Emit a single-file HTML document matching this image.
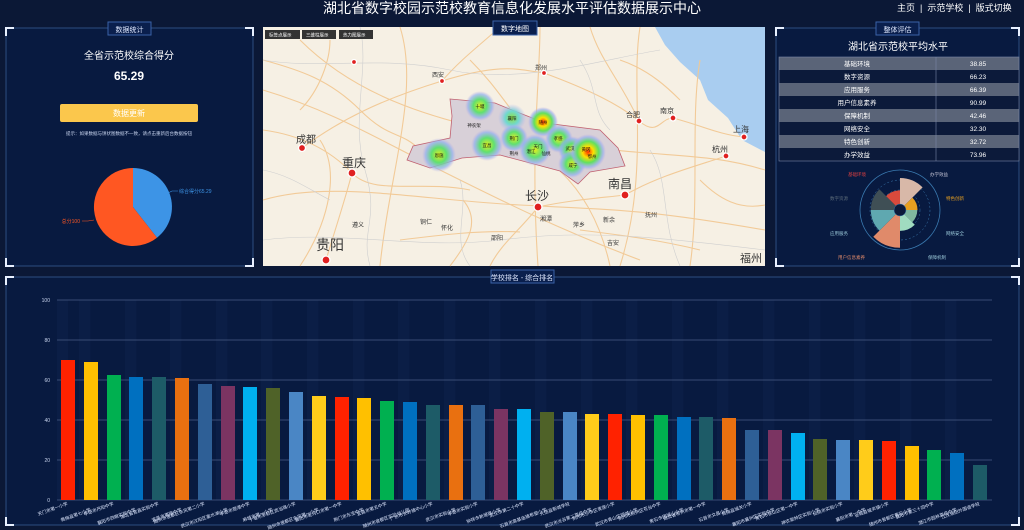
<!DOCTYPE html>
<html><head><meta charset="utf-8"><style>
html,body{margin:0;padding:0;background:#0b1836;width:1024px;height:530px;overflow:hidden;font-family:"Liberation Sans","Noto Sans CJK SC",sans-serif}
svg text{font-family:"Liberation Sans","Noto Sans CJK SC",sans-serif}
</style></head><body>
<svg width="1024" height="530" viewBox="0 0 1024 530" xmlns="http://www.w3.org/2000/svg">
<defs>
<radialGradient id="h1"><stop offset="0" stop-color="#ff3000"/><stop offset="0.3" stop-color="#ffe000"/><stop offset="0.6" stop-color="#60e060"/><stop offset="0.85" stop-color="#9ab0f0" stop-opacity="0.7"/><stop offset="1" stop-color="#c0b0e0" stop-opacity="0"/></radialGradient>
<radialGradient id="h2"><stop offset="0" stop-color="#e0f020"/><stop offset="0.45" stop-color="#60e070"/><stop offset="0.8" stop-color="#90b0f0" stop-opacity="0.7"/><stop offset="1" stop-color="#c0b0e0" stop-opacity="0"/></radialGradient>
<radialGradient id="h3"><stop offset="0" stop-color="#90e040"/><stop offset="0.5" stop-color="#70d8d0"/><stop offset="1" stop-color="#b0b0f0" stop-opacity="0"/></radialGradient>
</defs>
<text x="512" y="13" fill="#fff" font-size="14" text-anchor="middle">湖北省数字校园示范校教育信息化发展水平评估数据展示中心</text>
<text x="897" y="11" fill="#fff" font-size="9">主页 &#160;|&#160; 示范学校 &#160;|&#160; 版式切换</text>

<g fill="#081a40" stroke="#2c4d80" stroke-width="1">
<rect x="6" y="28" width="247" height="238"/>
<rect x="776" y="28" width="243" height="238"/>
<rect x="6" y="277" width="1013" height="248"/>
</g>
<g fill="none" stroke="#e8f0ff" stroke-width="2">
<path d="M6,36 V28 H14"/><path d="M245,28 H253 V36"/><path d="M6,258 V266 H14"/><path d="M245,266 H253 V258"/>
<path d="M776,36 V28 H784"/><path d="M1011,28 H1019 V36"/><path d="M776,258 V266 H784"/><path d="M1011,266 H1019 V258"/>
<path d="M6,285 V277 H14"/><path d="M1011,277 H1019 V285"/><path d="M6,517 V525 H14"/><path d="M1011,525 H1019 V517"/>
</g>

<rect x="108" y="22" width="43" height="13" fill="#0a1f4d" stroke="#3a62a8"/>
<text x="129.5" y="32" fill="#dfe8ff" font-size="7" text-anchor="middle">数据统计</text>
<text x="129" y="59" fill="#fff" font-size="10" text-anchor="middle">全省示范校综合得分</text>
<text x="129" y="80" fill="#fff" font-size="12" font-weight="bold" text-anchor="middle">65.29</text>
<rect x="60" y="104" width="138" height="18" rx="2" fill="#fbc74c"/>
<text x="129" y="116" fill="#fff" font-size="8" text-anchor="middle">数据更新</text>
<text x="129" y="135" fill="#c8d4ee" font-size="4.5" text-anchor="middle">提示：如果数据与饼状图数据不一致，请点击重新后台数据按钮</text>
<path d="M133,207 L133,168 A39,39 0 0 1 157,237.7 Z" fill="#3d94e6"/>
<path d="M133,207 L157,237.7 A39,39 0 1 1 133,168 Z" fill="#ff5722"/>
<path d="M168,193 L172,191 H178" stroke="#3d94e6" fill="none" stroke-width="0.6"/>
<text x="179" y="193" fill="#3d94e6" font-size="5">综合得分65.29</text>
<path d="M94,220 L88,221 H82" stroke="#ff5722" fill="none" stroke-width="0.6"/>
<text x="80" y="223" fill="#ff5722" font-size="5" text-anchor="end">总分100</text>

<!-- map -->
<rect x="263" y="27" width="502" height="239" fill="#f6f0e4"/>
<polygon points="655,27 765,27 765,152 742,140 728,118 708,100 700,80 680,62 665,45" fill="#a9cdf0"/>
<g fill="none" stroke="#f2c994" stroke-width="1.1" opacity="0.95">
<path d="M263,90 C330,110 380,140 440,170 S560,230 640,260"/>
<path d="M300,40 C350,90 420,120 540,140 S700,150 765,170"/>
<path d="M263,200 C330,180 420,200 520,205 S650,210 765,230"/>
<path d="M540,27 C540,80 530,150 538,266"/>
<path d="M400,27 C420,90 390,170 380,266"/>
<path d="M640,27 C630,90 650,170 620,266"/>
<path d="M700,60 C690,120 700,200 690,266"/>
<path d="M320,140 C340,170 330,220 300,266"/>
<path d="M263,130 C300,135 330,150 352,173 S420,180 470,190"/>
<path d="M302,148 C340,120 380,100 442,81 S520,70 544,73"/>
<path d="M544,73 C590,90 620,105 639,121 S660,118 673,118"/>
<path d="M673,118 C700,125 720,135 744,137"/>
<path d="M625,195 C660,175 700,165 726,156"/>
<path d="M538,207 C570,200 600,198 625,195"/>
<path d="M538,207 C520,230 500,245 490,266"/>
<path d="M352,173 C345,200 335,230 326,260"/>
<path d="M442,81 C460,60 480,45 500,27"/>
<path d="M590,27 C600,60 620,80 639,121"/>
<path d="M263,60 C300,70 330,80 360,110 S400,130 420,150"/>
<path d="M560,171 C580,190 600,220 610,266"/>
<path d="M463,200 C480,220 470,240 450,266"/>
<path d="M700,180 C720,200 740,210 765,205"/>
<path d="M620,60 C650,70 670,90 680,100"/>
<path d="M330,40 C330,60 320,90 300,110"/>
<path d="M580,230 C620,235 660,240 700,250"/>
<path d="M400,240 C440,235 480,230 520,232"/>
<path d="M470,60 C490,80 500,95 510,108"/>
</g>
<g fill="none" stroke="#cfcfcf" stroke-width="0.6">
<path d="M263,60 C320,70 380,55 450,70 S600,60 660,50"/>
<path d="M263,240 C340,230 420,250 500,240 S640,235 765,250"/>
<path d="M460,180 C470,210 450,240 470,266"/>
<path d="M360,27 C370,70 350,120 365,170 S360,230 370,266"/>
<path d="M580,60 C600,90 590,110 610,130"/>
<path d="M650,150 C670,180 660,220 680,266"/>
<path d="M263,170 C290,175 310,190 330,200"/>
</g>
<polygon points="450,99 495,103 512,110 545,123 600,130 618,148 625,166 590,172 578,184 560,171 500,155 462,158 430,168 407,160 413,146 450,138 452,116" fill="#d8d0d8" stroke="#c06070" stroke-width="0.8"/>
<circle cx="480" cy="106" r="15" fill="url(#h2)"/>
<circle cx="512" cy="118" r="14" fill="url(#h3)"/>
<circle cx="543" cy="122" r="15" fill="url(#h1)"/>
<circle cx="514" cy="138" r="14" fill="url(#h2)"/>
<circle cx="487" cy="145" r="16" fill="url(#h2)"/>
<circle cx="439" cy="155" r="17" fill="url(#h2)"/>
<circle cx="559" cy="139" r="14" fill="url(#h2)"/>
<circle cx="535" cy="150" r="16" fill="url(#h2)"/>
<circle cx="572" cy="150" r="14" fill="url(#h2)"/>
<circle cx="572" cy="164" r="14" fill="url(#h2)"/>
<circle cx="588" cy="152" r="18" fill="url(#h1)"/>
<g font-size="4.5" fill="#111" text-anchor="middle">
<text x="480" y="108">十堰</text><text x="512" y="120">襄阳</text><text x="543" y="124">随州</text><text x="474" y="127">神农架</text>
<text x="514" y="140">荆门</text><text x="487" y="147">宜昌</text><text x="439" y="157">恩施</text><text x="538" y="148">天门</text>
<text x="558" y="140">孝感</text><text x="570" y="150">武汉</text><text x="586" y="151">黄冈</text><text x="573" y="167">咸宁</text>
<text x="514" y="155">荆州</text><text x="531" y="153">潜江</text><text x="546" y="155">仙桃</text><text x="592" y="158">鄂州</text>
</g>
<g fill="#e02020" stroke="#fff" stroke-width="1.3">
<circle cx="302" cy="148" r="3.5"/><circle cx="352" cy="173" r="4"/><circle cx="538" cy="207" r="4"/><circle cx="625" cy="195" r="4"/>
<circle cx="639" cy="121" r="3"/><circle cx="673" cy="118" r="3"/><circle cx="744" cy="137" r="3"/><circle cx="726" cy="156" r="3"/>
<circle cx="544" cy="73" r="2.5"/><circle cx="442" cy="81" r="2.5"/><circle cx="326" cy="260" r="4"/><circle cx="354" cy="62" r="2.5"/>
</g>
<g fill="#333" font-size="10">
<text x="296" y="143">成都</text><text x="342" y="167" font-size="12">重庆</text><text x="525" y="200" font-size="12">长沙</text>
<text x="608" y="188" font-size="12">南昌</text><text x="626" y="117" font-size="7">合肥</text><text x="660" y="113" font-size="7">南京</text>
<text x="733" y="132" font-size="8">上海</text><text x="712" y="152" font-size="8">杭州</text><text x="535" y="70" font-size="6">郑州</text>
<text x="432" y="77" font-size="6">西安</text><text x="316" y="250" font-size="14">贵阳</text>
<text x="352" y="227" font-size="6">遵义</text><text x="420" y="224" font-size="6">铜仁</text><text x="441" y="230" font-size="6">怀化</text>
<text x="540" y="221" font-size="6">湘潭</text><text x="573" y="227" font-size="6">萍乡</text><text x="603" y="222" font-size="6">新余</text>
<text x="645" y="217" font-size="6">抚州</text><text x="491" y="240" font-size="6">邵阳</text><text x="607" y="245" font-size="6">吉安</text>
<text x="740" y="262" font-size="11">福州</text>
</g>
<g font-size="4.5" fill="#fff">
<rect x="265" y="30" width="35" height="9" fill="#333"/><text x="269" y="36.5">标签点展示</text>
<rect x="302" y="30" width="34" height="9" fill="#333"/><text x="306" y="36.5">三维柱展示</text>
<rect x="339" y="30" width="34" height="9" fill="#333"/><text x="343" y="36.5">热力图展示</text>
</g>
<rect x="493" y="21" width="44" height="14" fill="#0a1f4d" stroke="#3a62a8"/>
<text x="515" y="31" fill="#fff" font-size="7" text-anchor="middle">数字地图</text>

<!-- right panel -->
<rect x="876" y="22" width="43" height="13" fill="#0a1f4d" stroke="#3a62a8"/>
<text x="897.5" y="32" fill="#dfe8ff" font-size="7" text-anchor="middle">整体评估</text>
<text x="898" y="50" fill="#fff" font-size="10" text-anchor="middle">湖北省示范校平均水平</text>
<g>
<rect x="779" y="57" width="240" height="13" fill="#5a6478"/>
<rect x="779" y="70" width="240" height="13" fill="#0c1a3a"/>
<rect x="779" y="83" width="240" height="13" fill="#5a6478"/>
<rect x="779" y="96" width="240" height="13" fill="#0c1a3a"/>
<rect x="779" y="109" width="240" height="13" fill="#5a6478"/>
<rect x="779" y="122" width="240" height="13" fill="#0c1a3a"/>
<rect x="779" y="135" width="240" height="13" fill="#5a6478"/>
<rect x="779" y="148" width="240" height="13" fill="#0c1a3a"/>
<rect x="779" y="57" width="240" height="104" fill="none" stroke="#7a88a8" stroke-width="0.6"/>
<line x1="936" y1="57" x2="936" y2="161" stroke="#7a88a8" stroke-width="0.6"/>
</g>
<g fill="#fff" font-size="6.5" text-anchor="middle">
<text x="857" y="66">基础环境</text><text x="978" y="66">38.85</text>
<text x="857" y="79">数字资源</text><text x="978" y="79">66.23</text>
<text x="857" y="92">应用服务</text><text x="978" y="92">66.39</text>
<text x="857" y="105">用户信息素养</text><text x="978" y="105">90.99</text>
<text x="857" y="118">保障机制</text><text x="978" y="118">42.46</text>
<text x="857" y="131">网络安全</text><text x="978" y="131">32.30</text>
<text x="857" y="144">特色创新</text><text x="978" y="144">32.72</text>
<text x="857" y="157">办学效益</text><text x="978" y="157">73.96</text>
</g>
<circle cx="900" cy="210" r="40" fill="none" stroke="#3a7ab0" stroke-width="0.8"/>
<circle cx="900" cy="210" r="30" fill="none" stroke="#3a7ab0" stroke-width="0.5" stroke-dasharray="2,2"/>
<circle cx="900" cy="210" r="20" fill="none" stroke="#3a7ab0" stroke-width="0.5" stroke-dasharray="2,2"/>
<path d="M900,210 L900,178 A32,32 0 0 1 922.6,187.4 Z" fill="#d8b8a8"/>
<path d="M900,210 L912.4,197.6 A17.5,17.5 0 0 1 917.5,210 Z" fill="#e8a020"/>
<path d="M900,210 L917.3,210 A17.3,17.3 0 0 1 912.2,222.2 Z" fill="#7fb8a0"/>
<path d="M900,210 L914.8,224.8 A20.9,20.9 0 0 1 900,230.9 Z" fill="#a0dcc0"/>
<path d="M900,210 L900,247.8 A37.8,37.8 0 0 1 873.3,236.7 Z" fill="#e08a6a"/>
<path d="M900,210 L879.4,230.6 A29.2,29.2 0 0 1 870.8,210 Z" fill="#5fa8b0"/>
<path d="M900,210 L870.8,210 A29.2,29.2 0 0 1 879.4,189.4 Z" fill="#3f4f55"/>
<path d="M900,210 L886.1,196.1 A19.6,19.6 0 0 1 900,190.4 Z" fill="#d94a3c"/>
<circle cx="900" cy="210" r="6" fill="#0c1a3a" stroke="#3a7ab0" stroke-width="0.5"/>
<g font-size="4.5">
<text x="848" y="176" fill="#e04040">基础环境</text><text x="930" y="176" fill="#c8c8d8">办学效益</text>
<text x="830" y="200" fill="#5a6a78">数字资源</text><text x="946" y="200" fill="#e8a020">特色创新</text>
<text x="830" y="235" fill="#9ac8d8">应用服务</text><text x="946" y="235" fill="#9ac8d8">网络安全</text>
<text x="838" y="259" fill="#e08a6a">用户信息素养</text><text x="928" y="259" fill="#9ac8d8">保障机制</text>
</g>

<!-- bottom chart -->
<rect x="491" y="270" width="63" height="13" fill="#0a1f4d" stroke="#3a62a8"/>
<text x="522" y="280" fill="#dfe8ff" font-size="7" text-anchor="middle">学校排名 - 综合排名</text>
<g fill="#0c1f48" opacity="0.8">
<rect x="57" y="300" width="11" height="200"/>
<rect x="79" y="300" width="11.4" height="200"/><rect x="125" y="300" width="11.4" height="200"/><rect x="170" y="300" width="11.4" height="200"/><rect x="216" y="300" width="11.4" height="200"/><rect x="261" y="300" width="11.4" height="200"/><rect x="307" y="300" width="11.4" height="200"/><rect x="353" y="300" width="11.4" height="200"/><rect x="398" y="300" width="11.4" height="200"/><rect x="444" y="300" width="11.4" height="200"/><rect x="489" y="300" width="11.4" height="200"/><rect x="535" y="300" width="11.4" height="200"/><rect x="581" y="300" width="11.4" height="200"/><rect x="626" y="300" width="11.4" height="200"/><rect x="672" y="300" width="11.4" height="200"/><rect x="717" y="300" width="11.4" height="200"/><rect x="763" y="300" width="11.4" height="200"/><rect x="809" y="300" width="11.4" height="200"/><rect x="854" y="300" width="11.4" height="200"/><rect x="900" y="300" width="11.4" height="200"/><rect x="945" y="300" width="11.4" height="200"/>
</g>
<g stroke="#4a5d85" stroke-width="0.8">
<line x1="57" y1="300" x2="992" y2="300"/><line x1="57" y1="340" x2="992" y2="340"/><line x1="57" y1="380" x2="992" y2="380"/>
<line x1="57" y1="420" x2="992" y2="420"/><line x1="57" y1="460" x2="992" y2="460"/><line x1="57" y1="500" x2="992" y2="500"/>
</g>
<g fill="#c8d4ee" font-size="5" text-anchor="end">
<text x="50" y="302">100</text><text x="50" y="342">80</text><text x="50" y="382">60</text><text x="50" y="422">40</text><text x="50" y="462">20</text><text x="50" y="502">0</text>
</g>
<g>
<rect x="61" y="360" width="14" height="140" fill="#ff2200"/>
<rect x="84" y="362" width="14" height="138" fill="#ffc000"/>
<rect x="107" y="375" width="14" height="125" fill="#00b050"/>
<rect x="129" y="377" width="14" height="123" fill="#0070c0"/>
<rect x="152" y="377" width="14" height="123" fill="#1d5b67"/>
<rect x="175" y="378" width="14" height="122" fill="#e97010"/>
<rect x="198" y="384" width="14" height="116" fill="#2e5f96"/>
<rect x="221" y="386" width="14" height="114" fill="#7b3462"/>
<rect x="243" y="387" width="14" height="113" fill="#00b0f0"/>
<rect x="266" y="388" width="14" height="112" fill="#4f6228"/>
<rect x="289" y="392" width="14" height="108" fill="#4a86c5"/>
<rect x="312" y="396" width="14" height="104" fill="#ffcc1a"/>
<rect x="335" y="397" width="14" height="103" fill="#ff2200"/>
<rect x="357" y="398" width="14" height="102" fill="#ffc000"/>
<rect x="380" y="401" width="14" height="99" fill="#00b050"/>
<rect x="403" y="402" width="14" height="98" fill="#0070c0"/>
<rect x="426" y="405" width="14" height="95" fill="#1d5b67"/>
<rect x="449" y="405" width="14" height="95" fill="#e97010"/>
<rect x="471" y="405" width="14" height="95" fill="#2e5f96"/>
<rect x="494" y="409" width="14" height="91" fill="#7b3462"/>
<rect x="517" y="409" width="14" height="91" fill="#00b0f0"/>
<rect x="540" y="412" width="14" height="88" fill="#4f6228"/>
<rect x="563" y="412" width="14" height="88" fill="#4a86c5"/>
<rect x="585" y="414" width="14" height="86" fill="#ffcc1a"/>
<rect x="608" y="414" width="14" height="86" fill="#ff2200"/>
<rect x="631" y="415" width="14" height="85" fill="#ffc000"/>
<rect x="654" y="415" width="14" height="85" fill="#00b050"/>
<rect x="677" y="417" width="14" height="83" fill="#0070c0"/>
<rect x="699" y="417" width="14" height="83" fill="#1d5b67"/>
<rect x="722" y="418" width="14" height="82" fill="#e97010"/>
<rect x="745" y="430" width="14" height="70" fill="#2e5f96"/>
<rect x="768" y="430" width="14" height="70" fill="#7b3462"/>
<rect x="791" y="433" width="14" height="67" fill="#00b0f0"/>
<rect x="813" y="439" width="14" height="61" fill="#4f6228"/>
<rect x="836" y="440" width="14" height="60" fill="#4a86c5"/>
<rect x="859" y="440" width="14" height="60" fill="#ffcc1a"/>
<rect x="882" y="441" width="14" height="59" fill="#ff2200"/>
<rect x="905" y="446" width="14" height="54" fill="#ffc000"/>
<rect x="927" y="450" width="14" height="50" fill="#00b050"/>
<rect x="950" y="453" width="14" height="47" fill="#0070c0"/>
<rect x="973" y="465" width="14" height="35" fill="#1d5b67"/>
</g>
<g fill="#dfe8ff" font-size="4.5" text-anchor="end">
<text transform="translate(68,505) rotate(-20)">天门市第一小学</text>
<text transform="translate(91,511) rotate(-20)">黄梅县第七小学</text>
<text transform="translate(114,505) rotate(-20)">孝感市丹阳中学</text>
<text transform="translate(136,511) rotate(-20)">襄阳市四眼实验中学</text>
<text transform="translate(159,505) rotate(-20)">湖北省宜昌实验中学</text>
<text transform="translate(182,511) rotate(-20)">宜昌市夷陵中学</text>
<text transform="translate(205,505) rotate(-20)">随州市曾都区东风第二小学</text>
<text transform="translate(228,511) rotate(-20)">武汉市汉阳区墨水湖小学</text>
<text transform="translate(250,505) rotate(-20)">孝感市楚澴中学</text>
<text transform="translate(273,511) rotate(-20)">麻城市第一小学</text>
<text transform="translate(296,505) rotate(-20)">十堰市茅箭区武当路小学</text>
<text transform="translate(319,511) rotate(-20)">随州市曾都区东风第一小学</text>
<text transform="translate(342,505) rotate(-20)">襄阳市老河口市第一中学</text>
<text transform="translate(364,511) rotate(-20)">荆门市东宝中学</text>
<text transform="translate(387,505) rotate(-20)">宜昌市第五中学</text>
<text transform="translate(410,511) rotate(-20)">随州市曾都区实验幼儿园</text>
<text transform="translate(433,505) rotate(-20)">广水市长岭镇中心小学</text>
<text transform="translate(456,511) rotate(-20)">武汉市实验小学</text>
<text transform="translate(478,505) rotate(-20)">孝感市实验小学</text>
<text transform="translate(501,511) rotate(-20)">钟祥市新堤路小学</text>
<text transform="translate(524,505) rotate(-20)">武汉市第二十中学</text>
<text transform="translate(547,511) rotate(-20)">石首市高基庙镇希望小学</text>
<text transform="translate(570,505) rotate(-20)">大悟县新城学校</text>
<text transform="translate(592,511) rotate(-20)">武汉市光谷第二高级中学</text>
<text transform="translate(615,505) rotate(-20)">荆州市沙市区青莲小学</text>
<text transform="translate(638,511) rotate(-20)">武汉市青山区钢城小学</text>
<text transform="translate(661,505) rotate(-20)">荆州市荆州区花台中学</text>
<text transform="translate(684,511) rotate(-20)">黄石市团城山小学</text>
<text transform="translate(706,505) rotate(-20)">湖北省鄂州市第一中学</text>
<text transform="translate(729,511) rotate(-20)">石首市文昌小学</text>
<text transform="translate(752,505) rotate(-20)">黄梅县城关小学</text>
<text transform="translate(775,511) rotate(-20)">襄阳市襄州区实验中学</text>
<text transform="translate(798,505) rotate(-20)">黄石市铁山区第一中学</text>
<text transform="translate(820,511) rotate(-20)">神农架林区实验小学</text>
<text transform="translate(843,505) rotate(-20)">仙桃市实验小学</text>
<text transform="translate(866,511) rotate(-20)">襄阳市第一中学</text>
<text transform="translate(889,505) rotate(-20)">谷城县城关镇小学</text>
<text transform="translate(912,511) rotate(-20)">随州市曾都区黄石小学</text>
<text transform="translate(934,505) rotate(-20)">襄阳市第三十四中学</text>
<text transform="translate(957,511) rotate(-20)">潜江市园林高级中学</text>
<text transform="translate(980,505) rotate(-20)">江汉油田外国语学校</text>
</g>
</svg>
</body></html>
